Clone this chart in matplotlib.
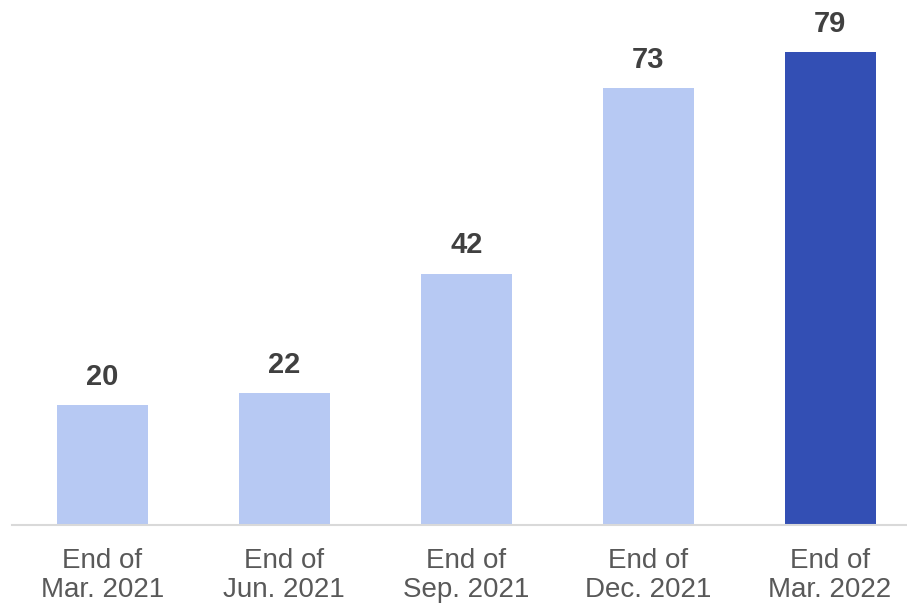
import numpy as np
import matplotlib.pyplot as plt

# Quarter-end counts
periods = ['End of\nMar. 2021', 'End of\nJun. 2021', 'End of\nSep. 2021',
           'End of\nDec. 2021', 'End of\nMar. 2022']
counts = [20, 22, 42, 73, 79]
bar_colors = ['#B7C9F3', '#B7C9F3', '#B7C9F3', '#B7C9F3', '#334FB4']

plt.rcParams['font.family'] = ['Liberation Sans', 'DejaVu Sans']

fig = plt.figure(figsize=(9.07, 6.05), dpi=100)
ax = fig.add_axes([11.5 / 907, 80 / 605, 909.5 / 907, 525 / 605])

x = np.arange(len(counts))
ax.bar(x, counts, width=0.5, color=bar_colors, zorder=2)

for xi, v in zip(x, counts):
    ax.text(xi, v + 2.4, str(v), ha='center', va='bottom',
            fontsize=21, fontweight='bold', color='#404040')

ax.set_xlim(-0.5, 4.5)
ax.set_ylim(0, 87.7)
ax.set_xticks(x)
ax.set_xticklabels(periods, fontsize=20, color='#595959', linespacing=1.15)
ax.tick_params(axis='x', length=0, pad=16.5)
ax.set_yticks([])

for side in ['top', 'right', 'left']:
    ax.spines[side].set_visible(False)
ax.spines['bottom'].set_color('#D9D9D9')
ax.spines['bottom'].set_linewidth(1.5)

fig.savefig('out.png', dpi=100)
